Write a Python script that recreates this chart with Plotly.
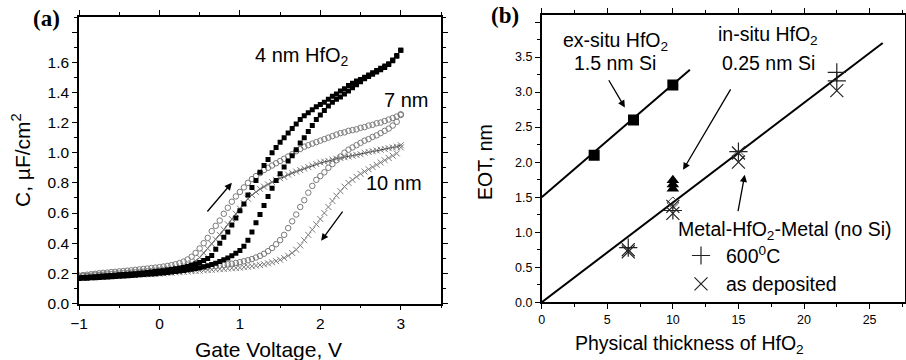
import plotly.graph_objects as go

# ---------------- Panel (a): C-V hysteresis ----------------
V = [-1.00, -0.95, -0.90, -0.85, -0.80, -0.75, -0.70, -0.65, -0.60, -0.55,
     -0.50, -0.45, -0.40, -0.35, -0.30, -0.25, -0.20, -0.15, -0.10, -0.05,
     0.00, 0.05, 0.10, 0.15, 0.20, 0.25, 0.30, 0.35, 0.40, 0.45,
     0.50, 0.55, 0.60, 0.65, 0.70, 0.75, 0.80, 0.85, 0.90, 0.95,
     1.00, 1.05, 1.10, 1.15, 1.20, 1.25, 1.30, 1.35, 1.40, 1.45,
     1.50, 1.55, 1.60, 1.65, 1.70, 1.75, 1.80, 1.85, 1.90, 1.95,
     2.00, 2.05, 2.10, 2.15, 2.20, 2.25, 2.30, 2.35, 2.40, 2.45,
     2.50, 2.55, 2.60, 2.65, 2.70, 2.75, 2.80, 2.85, 2.90, 2.95, 3.00]

c4_up = [0.170, 0.172, 0.174, 0.176, 0.178, 0.180, 0.182, 0.184, 0.186, 0.188,
         0.190, 0.192, 0.194, 0.196, 0.198, 0.200, 0.203, 0.206, 0.209, 0.212,
         0.215, 0.218, 0.222, 0.226, 0.230, 0.234, 0.238, 0.245, 0.253, 0.262,
         0.272, 0.285, 0.298, 0.318, 0.360, 0.400, 0.440, 0.475, 0.520, 0.567,
         0.615, 0.660, 0.720, 0.770, 0.815, 0.870, 0.915, 0.955, 1.000, 1.035,
         1.070, 1.100, 1.130, 1.160, 1.190, 1.220, 1.245, 1.265, 1.285, 1.305,
         1.320, 1.335, 1.355, 1.375, 1.390, 1.410, 1.425, 1.445, 1.460, 1.475,
         1.485, 1.500, 1.515, 1.530, 1.545, 1.560, 1.575, 1.590, 1.615, 1.645, 1.680]

c4_dn = [0.165, 0.167, 0.168, 0.170, 0.171, 0.173, 0.174, 0.176, 0.177, 0.179,
         0.180, 0.182, 0.184, 0.186, 0.188, 0.190, 0.192, 0.194, 0.196, 0.198,
         0.200, 0.203, 0.206, 0.209, 0.212, 0.215, 0.219, 0.223, 0.227, 0.232,
         0.237, 0.243, 0.250, 0.258, 0.267, 0.278, 0.290, 0.302, 0.316, 0.333,
         0.352, 0.380, 0.420, 0.475, 0.535, 0.590, 0.650, 0.710, 0.765, 0.815,
         0.860, 0.905, 0.945, 0.980, 1.020, 1.065, 1.100, 1.140, 1.180, 1.220,
         1.250, 1.280, 1.310, 1.335, 1.355, 1.370, 1.390, 1.410, 1.430, 1.450,
         1.470, 1.490, 1.505, 1.520, 1.535, 1.550, 1.565, 1.585, 1.610, 1.640, 1.680]

c7_up = [0.185, 0.188, 0.191, 0.194, 0.197, 0.200, 0.203, 0.205, 0.208, 0.210,
         0.213, 0.215, 0.218, 0.220, 0.223, 0.226, 0.229, 0.232, 0.235, 0.238,
         0.241, 0.245, 0.249, 0.254, 0.260, 0.268, 0.278, 0.292, 0.310, 0.335,
         0.365, 0.400, 0.435, 0.480, 0.515, 0.550, 0.595, 0.635, 0.675, 0.710,
         0.740, 0.770, 0.800, 0.825, 0.845, 0.865, 0.885, 0.900, 0.915, 0.930,
         0.945, 0.960, 0.975, 0.990, 1.010, 1.025, 1.040, 1.050, 1.060, 1.070,
         1.080, 1.090, 1.100, 1.110, 1.120, 1.130, 1.135, 1.145, 1.150, 1.155,
         1.165, 1.170, 1.180, 1.185, 1.195, 1.200, 1.210, 1.220, 1.230, 1.240, 1.255]

c7_dn = [0.178, 0.180, 0.182, 0.184, 0.186, 0.188, 0.190, 0.192, 0.194, 0.196,
         0.198, 0.200, 0.202, 0.204, 0.206, 0.208, 0.210, 0.212, 0.214, 0.216,
         0.218, 0.220, 0.222, 0.224, 0.226, 0.228, 0.230, 0.232, 0.234, 0.236,
         0.238, 0.240, 0.243, 0.246, 0.249, 0.252, 0.256, 0.260, 0.264, 0.269,
         0.274, 0.280, 0.287, 0.295, 0.305, 0.316, 0.330, 0.347, 0.368, 0.393,
         0.420, 0.455, 0.500, 0.545, 0.590, 0.640, 0.685, 0.735, 0.780, 0.820,
         0.845, 0.870, 0.900, 0.925, 0.950, 0.975, 1.000, 1.020, 1.035, 1.050,
         1.065, 1.080, 1.090, 1.105, 1.115, 1.130, 1.145, 1.160, 1.180, 1.205, 1.250]

c10_up = [0.180, 0.182, 0.184, 0.186, 0.188, 0.190, 0.192, 0.194, 0.196, 0.198,
          0.200, 0.202, 0.204, 0.206, 0.208, 0.210, 0.212, 0.215, 0.218, 0.221,
          0.224, 0.227, 0.230, 0.234, 0.238, 0.243, 0.249, 0.257, 0.267, 0.283,
          0.305, 0.335, 0.365, 0.395, 0.425, 0.455, 0.490, 0.525, 0.560, 0.595,
          0.630, 0.665, 0.695, 0.720, 0.740, 0.760, 0.775, 0.790, 0.805, 0.820,
          0.830, 0.840, 0.855, 0.865, 0.875, 0.885, 0.895, 0.905, 0.915, 0.925,
          0.935, 0.940, 0.945, 0.955, 0.960, 0.965, 0.970, 0.975, 0.980, 0.985,
          0.990, 1.000, 1.005, 1.010, 1.015, 1.020, 1.025, 1.030, 1.035, 1.040, 1.050]

c10_dn = [0.168, 0.170, 0.171, 0.173, 0.174, 0.176, 0.177, 0.179, 0.180, 0.182,
          0.183, 0.185, 0.186, 0.188, 0.189, 0.191, 0.192, 0.194, 0.195, 0.197,
          0.198, 0.200, 0.202, 0.204, 0.206, 0.208, 0.210, 0.212, 0.214, 0.216,
          0.218, 0.220, 0.222, 0.224, 0.226, 0.228, 0.230, 0.232, 0.234, 0.236,
          0.238, 0.241, 0.244, 0.247, 0.251, 0.255, 0.260, 0.266, 0.273, 0.281,
          0.290, 0.302, 0.317, 0.335, 0.357, 0.385, 0.420, 0.455, 0.490, 0.525,
          0.560, 0.600, 0.640, 0.680, 0.715, 0.745, 0.775, 0.800, 0.820, 0.840,
          0.860, 0.875, 0.890, 0.905, 0.920, 0.935, 0.950, 0.965, 0.980, 0.995, 1.035]

a_xticks = [-1, 0, 1, 2, 3]
a_yticks = [0.0, 0.2, 0.4, 0.6, 0.8, 1.0, 1.2, 1.4, 1.6, 1.8]
a_ylabels = ["0.0", "0.2", "0.4", "0.6", "0.8", "1.0", "1.2", "1.4", "1.6", ""]

# ---------------- Panel (b): EOT vs physical thickness ----------------
ex_t = [4, 7, 10]
ex_eot = [2.10, 2.60, 3.10]
ex_fit_t = [0, 11.3]
ex_fit_eot = [1.50, 3.32]

in_tri_t = [10, 10, 10]
in_tri_eot = [1.62, 1.68, 1.74]

diam_t = [10, 15]
diam_eot = [1.42, 2.09]

ann_t = [6.6, 10, 15, 22.5, 22.5]
ann_eot = [0.78, 1.31, 2.15, 3.28, 3.16]

asdep_t = [6.6, 6.6, 10, 10, 15, 15, 22.5]
asdep_eot = [0.72, 0.75, 1.37, 1.27, 2.00, 2.13, 3.02]

mim_fit_t = [0, 26.0]
mim_fit_eot = [0, 3.70]

b_xticks = [0, 5, 10, 15, 20, 25]
b_yticks = [0.0, 0.5, 1.0, 1.5, 2.0, 2.5, 3.0, 3.5, 4.0]
b_ylabels = ["0.0", "0.5", "1.0", "1.5", "2.0", "2.5", "3.0", "3.5", ""]

FONT = "Liberation Sans, Arial, sans-serif"
SERIF = "Liberation Serif, Times New Roman, serif"
W, H = 906, 360

fig = go.Figure()

gray = "#7a7a7a"
# 10 nm
fig.add_trace(go.Scatter(x=V, y=c10_dn, mode="markers", xaxis="x", yaxis="y",
                         marker=dict(symbol="x-thin", size=6, line=dict(width=1, color=gray)),
                         showlegend=False))
fig.add_trace(go.Scatter(x=V, y=c10_up, mode="lines+markers", xaxis="x", yaxis="y",
                         line=dict(color="#333333", width=1),
                         marker=dict(symbol="x-thin", size=6, line=dict(width=1, color=gray)),
                         showlegend=False))
# 7 nm
fig.add_trace(go.Scatter(x=V, y=c7_dn, mode="markers", xaxis="x", yaxis="y",
                         marker=dict(symbol="circle-open", size=5.5, color=gray, line=dict(width=1)),
                         showlegend=False))
fig.add_trace(go.Scatter(x=V, y=c7_up, mode="markers", xaxis="x", yaxis="y",
                         marker=dict(symbol="circle-open", size=5.5, color=gray, line=dict(width=1)),
                         showlegend=False))
# 4 nm
fig.add_trace(go.Scatter(x=V, y=c4_dn, mode="markers", xaxis="x", yaxis="y",
                         marker=dict(symbol="square", size=5, color="black"),
                         showlegend=False))
fig.add_trace(go.Scatter(x=V, y=c4_up, mode="markers", xaxis="x", yaxis="y",
                         marker=dict(symbol="square", size=5, color="black"),
                         showlegend=False))

# Panel b traces
fig.add_trace(go.Scatter(x=ex_fit_t, y=ex_fit_eot, mode="lines", xaxis="x2", yaxis="y2",
                         line=dict(color="black", width=2), showlegend=False))
fig.add_trace(go.Scatter(x=mim_fit_t, y=mim_fit_eot, mode="lines", xaxis="x2", yaxis="y2",
                         line=dict(color="black", width=2), showlegend=False))
fig.add_trace(go.Scatter(x=ex_t, y=ex_eot, mode="markers", xaxis="x2", yaxis="y2",
                         marker=dict(symbol="square", size=11, color="black"), showlegend=False))
fig.add_trace(go.Scatter(x=in_tri_t, y=in_tri_eot, mode="markers", xaxis="x2", yaxis="y2",
                         marker=dict(symbol="triangle-up", size=11, color="black"), showlegend=False))
fig.add_trace(go.Scatter(x=diam_t, y=diam_eot, mode="markers", xaxis="x2", yaxis="y2",
                         marker=dict(symbol="diamond-open", size=9, color="#444", line=dict(width=1)),
                         showlegend=False))
fig.add_trace(go.Scatter(x=ann_t, y=ann_eot, mode="markers", xaxis="x2", yaxis="y2",
                         name="600<sup>0</sup>C",
                         marker=dict(symbol="cross-thin", size=13, line=dict(width=1.2, color="#222")),
                         showlegend=True, legend="legend"))
fig.add_trace(go.Scatter(x=asdep_t, y=asdep_eot, mode="markers", xaxis="x2", yaxis="y2",
                         name="as deposited",
                         marker=dict(symbol="x-thin", size=13, line=dict(width=1.2, color="#222")),
                         showlegend=True, legend="legend"))

axis_common = dict(showline=True, linecolor="black", linewidth=1.5, mirror="ticks",
                   ticks="outside", ticklen=5, tickwidth=1.2, tickcolor="black",
                   showgrid=False, zeroline=False, automargin=False)

# domains in paper coordinates
ax_l, ax_r = 79 / W, 441 / W
bx_l, bx_r = 541.7 / W, 905 / W
ay_b, ay_t = 1 - 303.5 / H, 1 - 17 / H
by_b, by_t = 1 - 302.3 / H, 1 - 15 / H

fig.update_layout(
    width=W, height=H,
    margin=dict(l=0, r=0, t=0, b=0, autoexpand=False),
    paper_bgcolor="white", plot_bgcolor="white",
    font=dict(family=FONT, color="black"),
    xaxis=dict(domain=[ax_l, ax_r], anchor="y", range=[-1, 3.5], tickvals=a_xticks,
               tickfont=dict(size=15.5), minor=dict(dtick=0.5, ticks="outside", ticklen=3, tickcolor="black"),
               **axis_common),
    yaxis=dict(domain=[ay_b, ay_t], anchor="x", range=[0, 1.9], tickvals=a_yticks, ticktext=a_ylabels,
               tickfont=dict(size=15.5), minor=dict(dtick=0.1, ticks="outside", ticklen=3, tickcolor="black"),
               **axis_common),
    xaxis2=dict(domain=[bx_l, bx_r], anchor="y2", range=[0, 27.7], tickvals=b_xticks,
                tickfont=dict(size=12.5), minor=dict(dtick=2.5, ticks="outside", ticklen=3, tickcolor="black"),
                **axis_common),
    yaxis2=dict(domain=[by_b, by_t], anchor="x2", range=[0, 4.1], tickvals=b_yticks, ticktext=b_ylabels,
                tickfont=dict(size=12.5), minor=dict(dtick=0.25, ticks="outside", ticklen=3, tickcolor="black"),
                **axis_common),
    legend=dict(x=676 / W, y=1 - 211 / H, xanchor="left", yanchor="top",
                bgcolor="rgba(0,0,0,0)", borderwidth=0,
                font=dict(size=19.5, family=FONT),
                title=dict(text="Metal-HfO<sub>2</sub>-Metal (no Si)", font=dict(size=19.5, family=FONT)),
                itemwidth=40, tracegroupgap=0),
)

ann = []
def txt(text, x, y, size=17, family=FONT, **kw):
    d = dict(text=text, x=x, y=y, xref="paper", yref="paper", showarrow=False,
             font=dict(size=size, family=family, color="black"), xanchor="center", yanchor="middle")
    d.update(kw)
    ann.append(d)

def px(xp, yp):
    return xp / W, 1 - yp / H

# Panel labels
txt("<b>(a)</b>", *px(31, 18), size=23, family=SERIF, xanchor="left")
txt("<b>(b)</b>", *px(489, 16), size=23, family=SERIF, xanchor="left")

# Axis titles
txt("C, µF/cm<sup>2</sup>", *px(21, 160), size=21, textangle=-90)
txt("Gate Voltage, V", *px(268, 349), size=21)
txt("EOT, nm", *px(485, 162), size=19.5, textangle=-90)
txt("Physical thickness of HfO<sub>2</sub>", *px(689, 344), size=19.5)

# Panel a curve labels
txt("4 nm HfO<sub>2</sub>", *px(302, 56), size=20)
txt("7 nm", *px(406, 100), size=20)
txt("10 nm", *px(394, 183), size=20)

# Panel b labels
txt("ex-situ HfO<sub>2</sub>", *px(615, 41), size=19.5)
txt("1.5 nm Si", *px(615, 63), size=19.5)
txt("in-situ HfO<sub>2</sub>", *px(768, 36), size=19.5)
txt("0.25 nm Si", *px(768, 63), size=19.5)

# Arrows (data coordinates)
def arrow(x0, y0, x1, y1, xr, yr):
    ann.append(dict(x=x1, y=y1, ax=x0, ay=y0, xref=xr, yref=yr, axref=xr, ayref=yr,
                    showarrow=True, arrowhead=2, arrowsize=1.1, arrowwidth=1.3,
                    arrowcolor="black", text=""))

arrow(0.58, 0.60, 0.90, 0.80, "x", "y")
arrow(2.29, 0.62, 2.01, 0.416, "x", "y")
arrow(5.05, 3.19, 6.34, 2.78, "x2", "y2")
arrow(14.47, 3.06, 10.78, 1.89, "x2", "y2")
arrow(14.95, 1.28, 15.48, 1.82, "x2", "y2")

fig.update_layout(annotations=ann)

fig.write_html("out.html",
               config={"displayModeBar": False},
               post_script="document.body.style.margin='0px';document.body.style.overflow='hidden';")
